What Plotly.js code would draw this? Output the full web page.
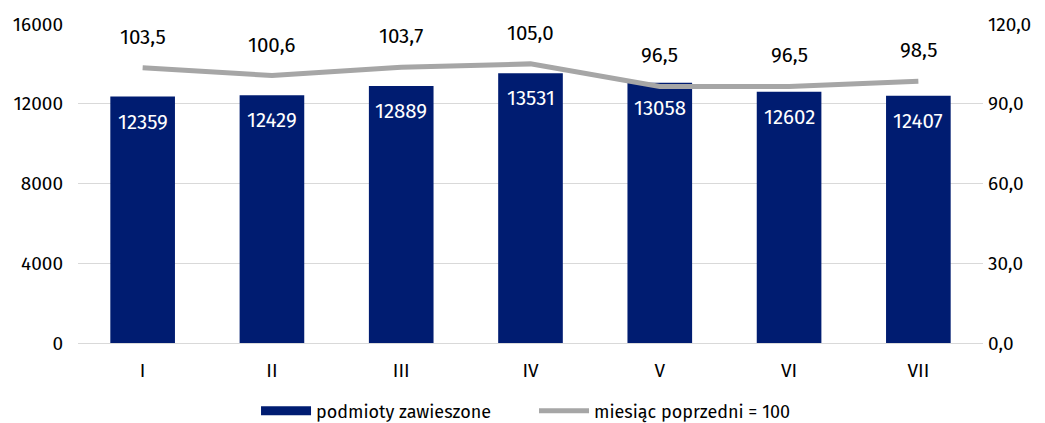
<!DOCTYPE html>
<html>
<head>
<meta charset="utf-8">
<script src="https://cdn.plot.ly/plotly-3.0.1.min.js"></script>
<style>html,body{margin:0;padding:0;background:#fff;}#chart{width:1045px;height:423px;}</style>
</head>
<body>
<div id="chart"></div>
<script>
const months = ["I", "II", "III", "IV", "V", "VI", "VII"];
const suspended = [12359, 12429, 12889, 13531, 13058, 12602, 12407];
const prevMonthIndex = [103.5, 100.6, 103.7, 105.0, 96.5, 96.5, 98.5];
const barName = "podmioty zawieszone";
const lineName = "miesiąc poprzedni = 100";

const FONT = "Fira Sans, Open Sans, Noto Sans, sans-serif";
const NAVY = "#001C71";
const GREY = "#A6A6A6";

const barTrace = {
  type: "bar",
  x: months,
  y: suspended,
  name: barName,
  marker: {color: NAVY},
  width: 0.5,
  showlegend: false,
  hoverinfo: "x+y"
};

// legend-only entry so the bar key is drawn as a wide block like the original
const barKey = {
  type: "scatter",
  mode: "lines",
  x: [null],
  y: [null],
  name: barName,
  line: {color: NAVY, width: 9},
  hoverinfo: "skip"
};

const lineTrace = {
  type: "scatter",
  mode: "lines",
  x: months,
  y: prevMonthIndex,
  yaxis: "y2",
  name: lineName,
  line: {color: GREY, width: 5}
};

const lineLabels = months.map((m, i) => ({
  x: m,
  y: prevMonthIndex[i],
  xref: "x",
  yref: "y2",
  text: prevMonthIndex[i].toFixed(1).replace(".", ","),
  showarrow: false,
  yshift: 31,
  font: {size: 20.5, color: "#000000", family: FONT}
}));

const barLabels = months.map((m, i) => ({
  x: m,
  y: suspended[i],
  xref: "x",
  yref: "y",
  text: String(suspended[i]),
  showarrow: false,
  yshift: -25,
  font: {size: 20.5, color: "#ffffff", family: FONT}
}));

const layout = {
  width: 1045,
  height: 423,
  margin: {l: 78, r: 62, t: 24, b: 80},
  paper_bgcolor: "#ffffff",
  plot_bgcolor: "#ffffff",
  font: {family: FONT, size: 18, color: "#000000"},
  separators: ", ",
  showlegend: true,
  legend: {
    orientation: "h",
    x: 0.245,
    xref: "container",
    xanchor: "left",
    y: 0.028,
    yref: "container",
    yanchor: "middle",
    itemwidth: 50,
    entrywidth: 213,
    font: {size: 18, family: FONT},
    traceorder: "normal"
  },
  xaxis: {
    type: "category",
    showgrid: false,
    showline: true,
    linecolor: "#D9D9D9",
    linewidth: 1,
    ticks: "",
    ticklabelstandoff: 10,
    tickfont: {size: 19, family: FONT},
    fixedrange: true
  },
  yaxis: {
    range: [0, 16000],
    dtick: 4000,
    tick0: 0,
    tickformat: "d",
    showgrid: true,
    gridcolor: "#D9D9D9",
    gridwidth: 1,
    zeroline: false,
    showline: false,
    ticks: "",
    ticklabelstandoff: 14,
    tickfont: {size: 19, family: FONT}
  },
  yaxis2: {
    overlaying: "y",
    side: "right",
    range: [0, 120],
    dtick: 30,
    tick0: 0,
    tickformat: ".1f",
    showgrid: false,
    zeroline: false,
    showline: false,
    ticks: "",
    ticklabelstandoff: 4,
    tickfont: {size: 19, family: FONT}
  },
  annotations: lineLabels.concat(barLabels)
};

Plotly.newPlot("chart", [barTrace, barKey, lineTrace], layout, {displayModeBar: false, staticPlot: true});
</script>
</body>
</html>
